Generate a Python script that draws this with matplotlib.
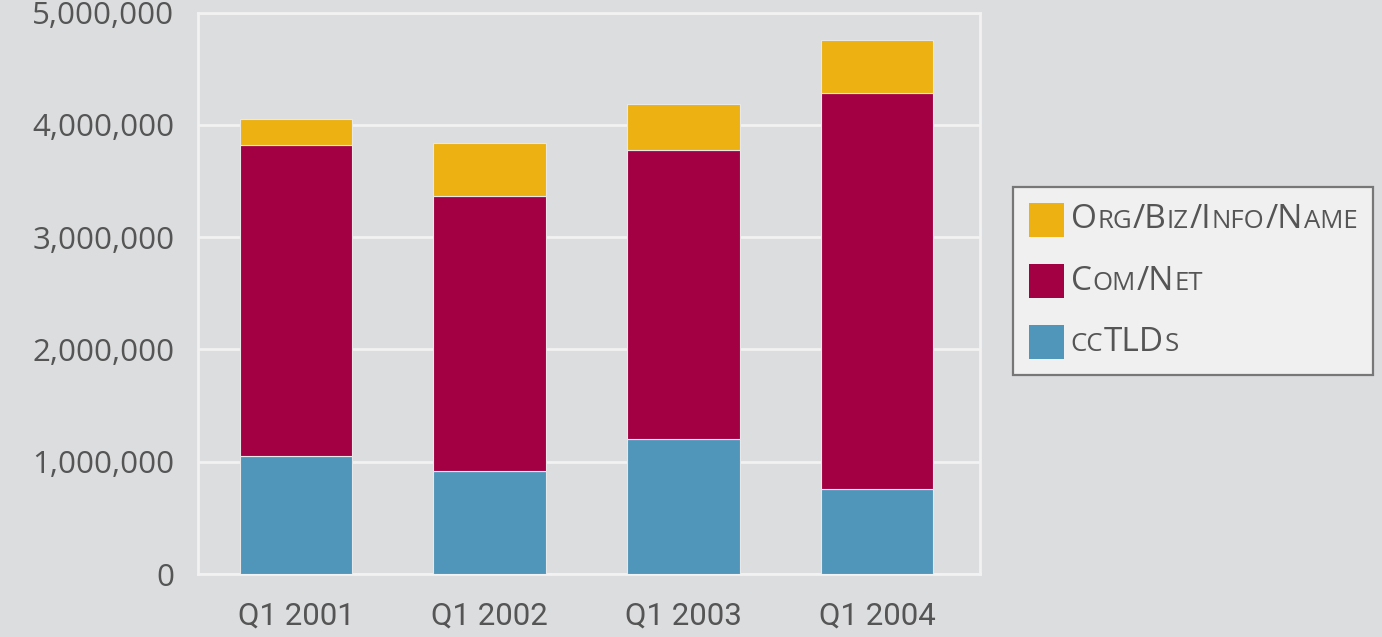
import matplotlib
matplotlib.use('Agg')
import matplotlib.pyplot as plt
import numpy as np
from matplotlib.ticker import FuncFormatter
from matplotlib.patches import Rectangle
from matplotlib.offsetbox import AnchoredOffsetbox, DrawingArea, HPacker, VPacker, TextArea

# data
quarters = ['Q1 2001', 'Q1 2002', 'Q1 2003', 'Q1 2004']
cctlds = [1050000, 918000, 1205000, 757000]
comnet = [2769000, 2452000, 2572000, 3530000]
orgbiz = [231000, 467000, 407000, 470000]
yticks = [0, 1000000, 2000000, 3000000, 4000000, 5000000]

# colors
bg = '#dcdddf'
c_org = '#edb111'
c_com = '#a30043'
c_cc = '#4f96ba'
txt = '#555555'
grid = '#f2f2f2'

plt.rcParams['font.family'] = ['Open Sans', 'DejaVu Sans']

fig = plt.figure(figsize=(13.82, 6.37), dpi=100, facecolor=bg)
ax = fig.add_axes([0.1433, 0.0989, 0.709 - 0.1433, 0.980 - 0.0989])
ax.set_facecolor(bg)

x = np.arange(len(quarters))
w = 0.583
cc = np.array(cctlds)
cn = np.array(comnet)
ob = np.array(orgbiz)
ax.bar(x, cc, w, color=c_cc, edgecolor='#e8e8e8', linewidth=0.8, zorder=3)
ax.bar(x, cn, w, bottom=cc, color=c_com, edgecolor='#e8e8e8', linewidth=0.8, zorder=3)
ax.bar(x, ob, w, bottom=cc + cn, color=c_org, edgecolor='#e8e8e8', linewidth=0.8, zorder=3)

ax.set_xlim(-0.506, 3.531)
ax.set_ylim(0, 5000000)
ax.set_yticks(yticks)
ax.yaxis.set_major_formatter(FuncFormatter(lambda v, p: '{:,}'.format(int(v))))
ax.set_xticks(x)
ax.set_xticklabels(quarters)
ax.grid(axis='y', color=grid, linewidth=2, zorder=0)
ax.set_axisbelow(True)
for s in ax.spines.values():
    s.set_color(grid)
    s.set_linewidth(2)
ax.tick_params(axis='y', length=0, pad=17, labelsize=22.5, labelcolor=txt)
ax.tick_params(axis='x', length=0, pad=20, labelsize=22.5, labelcolor=txt)
for lab in ax.get_xticklabels():
    lab.set_fontfamily(['Roboto', 'DejaVu Sans'])

# legend with small caps made from two sizes
big = 24
small = 18.5
labels = [
    (c_org, [('O', big), ('RG', small), ('/B', big), ('IZ', small), ('/I', big), ('NFO', small), ('/N', big), ('AME', small)]),
    (c_com, [('C', big), ('OM', small), ('/N', big), ('ET', small)]),
    (c_cc, [('CC', small), ('TLD', big), ('S', small)]),
]
rows = []
for col, parts in labels:
    da = DrawingArea(25, 25, 0, 0)
    da.add_artist(Rectangle((0, 0), 25, 25, facecolor=col, edgecolor='none'))
    pieces = [TextArea(t, textprops=dict(fontsize=sz, color=txt, family=['Open Sans', 'DejaVu Sans'])) for t, sz in parts]
    tx = HPacker(children=pieces, align='baseline', pad=0, sep=0.5)
    rows.append(HPacker(children=[da, tx], align='center', pad=0, sep=5))
box = VPacker(children=rows, align='left', pad=0, sep=19)
anc = AnchoredOffsetbox(loc='center left', child=box, pad=1.15, borderpad=0,
                        frameon=True, bbox_to_anchor=(1013 / 1382, 1 - 281 / 637),
                        bbox_transform=fig.transFigure)
anc.patch.set_facecolor('#f0f0f0')
anc.patch.set_edgecolor('#777777')
anc.patch.set_linewidth(1.6)
anc.patch.set_boxstyle('square', pad=0)
fig.add_artist(anc)

fig.savefig('out.png', dpi=100, facecolor=bg)
